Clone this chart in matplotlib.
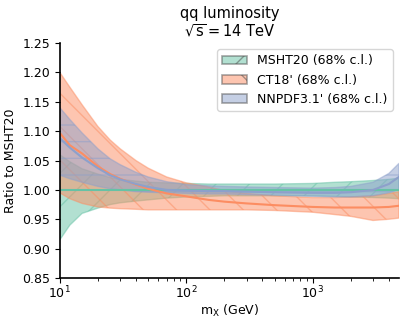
import numpy as np
import matplotlib
matplotlib.use("Agg")
import matplotlib.pyplot as pl
from matplotlib.patches import Patch

# mass points (GeV) at which the bands were read
mass = [10, 12, 15, 20, 25, 30, 40, 50, 70, 100, 150, 200, 300, 500,
        1000, 1500, 2000, 3000, 4000, 4800]

msht_lo = [0.915, 0.940, 0.960, 0.969, 0.975, 0.978, 0.981, 0.983, 0.986, 0.988,
           0.989, 0.990, 0.990, 0.990, 0.990, 0.989, 0.988, 0.987, 0.986, 0.985]
msht_hi = [1.060, 1.048, 1.036, 1.027, 1.021, 1.018, 1.015, 1.013, 1.012, 1.011,
           1.010, 1.010, 1.010, 1.010, 1.011, 1.013, 1.014, 1.016, 1.018, 1.020]
msht_c = [1.0] * len(mass)

ct18_hi = [1.200, 1.175, 1.145, 1.108, 1.085, 1.070, 1.050, 1.037, 1.022, 1.012,
           1.005, 0.999, 0.994, 0.990, 0.987, 0.987, 0.988, 0.990, 0.994, 0.997]
ct18_c = [1.097, 1.076, 1.062, 1.040, 1.027, 1.019, 1.009, 1.002, 0.994, 0.989,
          0.983, 0.980, 0.977, 0.974, 0.971, 0.970, 0.970, 0.970, 0.971, 0.973]
ct18_lo = [0.995, 0.985, 0.977, 0.971, 0.969, 0.968, 0.967, 0.966, 0.966, 0.966,
           0.966, 0.966, 0.966, 0.965, 0.962, 0.958, 0.955, 0.948, 0.950, 0.952]

nnpdf_hi = [1.140, 1.120, 1.097, 1.070, 1.053, 1.043, 1.030, 1.022, 1.014, 1.009,
            1.007, 1.006, 1.005, 1.004, 1.003, 1.004, 1.006, 1.013, 1.028, 1.045]
nnpdf_c = [1.088, 1.072, 1.055, 1.037, 1.025, 1.018, 1.010, 1.005, 1.000, 0.999,
           0.998, 0.998, 0.997, 0.996, 0.995, 0.995, 0.996, 1.000, 1.010, 1.022]
nnpdf_lo = [1.025, 1.019, 1.013, 1.006, 1.002, 1.000, 0.997, 0.996, 0.995, 0.994,
            0.993, 0.993, 0.992, 0.991, 0.989, 0.988, 0.988, 0.990, 0.995, 1.000]

labels = ["MSHT20 (68% c.l.)", "CT18' (68% c.l.)", "NNPDF3.1' (68% c.l.)"]
colors = ["#66c2a5", "#fc8d62", "#8da0cb"]
hatches = ["/", "\\", "-"]

fontsize = 9
fig = pl.figure(figsize=(4.07, 3.24), dpi=100)
ax = fig.add_axes([0.147, 0.142, 0.833, 0.725])

bands = [(msht_lo, msht_c, msht_hi), (ct18_lo, ct18_c, ct18_hi),
         (nnpdf_lo, nnpdf_c, nnpdf_hi)]
handles = []
for (lo, c, hi), color, hatch, label in zip(bands, colors, hatches, labels):
    ax.fill_between(mass, lo, hi, facecolor=color, alpha=0.5,
                    edgecolor=color, hatch=hatch, linewidth=1.0)
    ax.plot(mass, c, color=color, linewidth=1.5)
    handles.append(Patch(facecolor=color, alpha=0.5, edgecolor="0.3",
                         hatch=hatch, linewidth=1.2, label=label))

ax.set_xscale("log")
ax.set_xlim(10, 4800)
ax.set_ylim(0.85, 1.25)
ax.set_yticks(np.arange(0.85, 1.2501, 0.05))
ax.set_xlabel(r"m$_\mathrm{X}$ (GeV)", size=fontsize, labelpad=1)
ax.set_ylabel("Ratio to MSHT20", size=fontsize)
ax.set_title("qq luminosity\n" + r"$\sqrt{\mathrm{s}} = 14$ TeV", size=10.5,
             linespacing=1.1, pad=5)
ax.tick_params(labelsize=fontsize)
ax.tick_params(axis="x", which="major", pad=1.5)
for side in ["top", "right"]:
    ax.spines[side].set_visible(False)
ax.spines["left"].set_linewidth(1.2)
ax.spines["bottom"].set_linewidth(1.2)

ax.legend(handles=handles, loc="upper right", fontsize=fontsize)

fig.savefig("out.png", dpi=100)
